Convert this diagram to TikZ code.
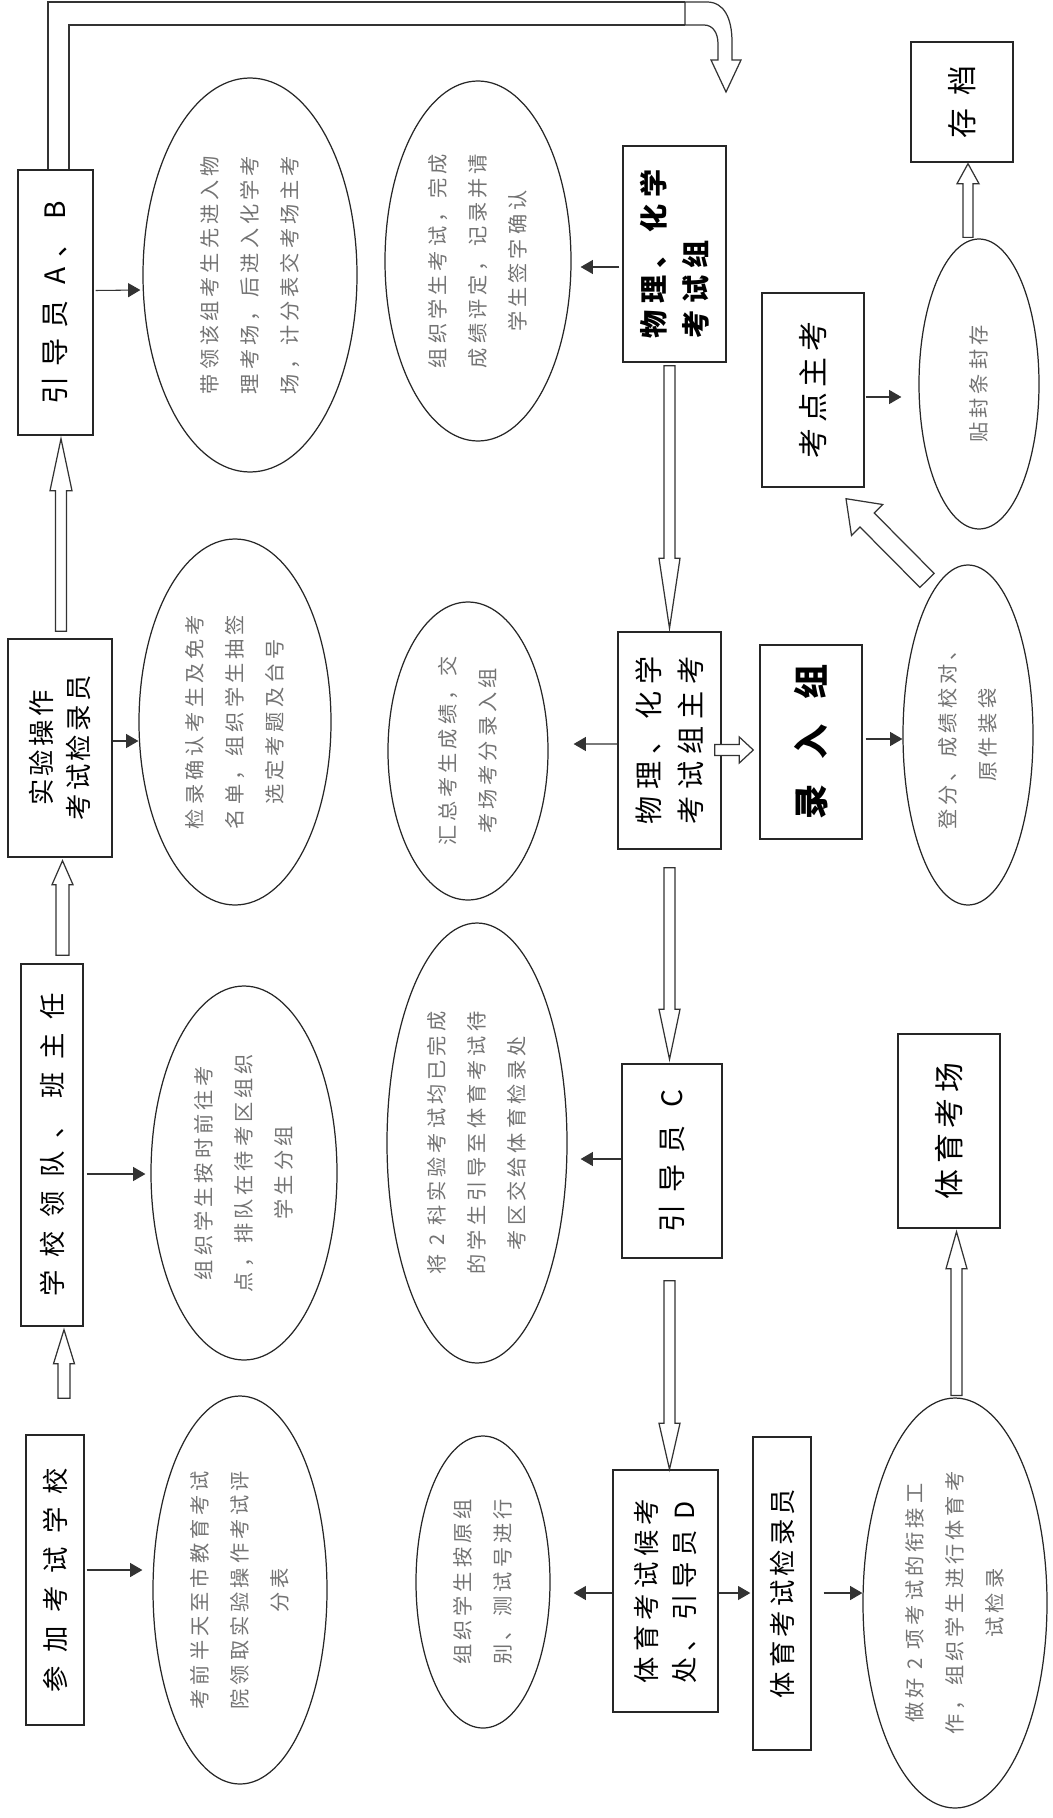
\documentclass[tikz,border=0pt]{standalone}
\usepackage{fontspec}
\setmainfont{Noto Sans CJK SC}
\usetikzlibrary{calc, arrows.meta, shapes.geometric}

\def\pxu{0.02cm}
\newcommand\blockarrow[5]{%
  \path #1 coordinate (ba-t) #2 coordinate (ba-h);
  \path ($(ba-h)!#5*\pxu!(ba-t)$) coordinate (ba-b);
  \draw[barrow] ($(ba-t)!#3*\pxu!90:(ba-h)$) -- ($(ba-b)!#3*\pxu!90:(ba-h)$)
    -- ($(ba-b)!#4*\pxu!90:(ba-h)$) -- (ba-h) -- ($(ba-b)!#4*\pxu!-90:(ba-h)$)
    -- ($(ba-b)!#3*\pxu!-90:(ba-h)$) -- ($(ba-t)!#3*\pxu!-90:(ba-h)$) -- cycle;
}

\begin{document}
\begin{tikzpicture}[x=0.02cm, y=-0.02cm,
    box/.style 2 args={draw=black!85, line width=0.8pt, rotate=90, inner sep=0pt,
      minimum width=#2*\pxu, minimum height=#1*\pxu, align=left},
    oval/.style 2 args={ellipse, draw=black!85, line width=0.7pt, rotate=90, inner sep=0pt,
      minimum width=#2*2*\pxu, minimum height=#1*2*\pxu, align=center, text=black!55,
      font=\fontsize{11.5}{22.7}\selectfont\addfontfeatures{LetterSpace=20}},
    txt/.style n args={3}{font=\fontsize{#1}{#2}\selectfont\addfontfeatures{LetterSpace=#3}},
    btxt/.style n args={3}{font=\fontsize{#1}{#2}\selectfont\bfseries\addfontfeatures{LetterSpace=#3}},
    arr/.style={draw=black!80, line width=0.6pt, -{Triangle[length=7pt, width=8pt]}},
    barrow/.style={draw=black!80, line width=0.7pt, fill=white}]

  \useasboundingbox (0,0) rectangle (1052,1818);

  \node[box={58}{290}, txt={15}{22}{50}] (sch) at (55,1580) {参加考试学校};
  \node[box={62}{362}, txt={15}{22}{50}] (xxld) at (52,1145) {学校领队、班主任};
  \node[box={104}{218}, txt={15}{21.5}{13}, align=center] (jljl) at (60,748) {实验操作\\考试检录员};
  \node[box={75}{265}, txt={16}{22}{35}] (ydab) at (55.5,302.5) {引导员 A、B};

  \node[oval={87}{194}] (e1) at (240,1590) {考前半天至市教育考试\\院领取实验操作考试评\\分表};
  \node[oval={93}{187}] (e2) at (244,1173) {组织学生按时前往考\\点，排队在待考区组织\\学生分组};
  \node[oval={96}{183}] (e3) at (235,722) {检录确认考生及免考\\名单，组织学生抽签\\选定考题及台号};
  \node[oval={107}{197}] (e4) at (250,275) {带领该组考生先进入物\\理考场，后进入化学考\\场，计分表交考场主考};

  \node[oval={93}{180}] (e5) at (478,261) {组织学生考试，完成\\成绩评定，记录并请\\学生签字确认};
  \node[oval={80}{149}] (e6) at (468,751) {汇总考生成绩，交\\考场考分录入组};
  \node[oval={90}{220}] (e7) at (477,1143) {将 2 科实验考试均已完成\\的学生引导至体育考试待\\考区交给体育检录处};
  \node[oval={67}{146}] (e8) at (483,1582) {组织学生按原组\\别、测试号进行};

  \node[box={103}{216}, btxt={16}{24}{25}] (wlz) at (674.5,254) {物理、化学\\考试组};
  \node[box={103}{217}, txt={16}{24}{25}] (zk) at (669.5,740.5) {物理、化学\\考试组主考};
  \node[box={100}{194}, txt={16}{22}{40}] (ydc) at (672,1161) {引导员 C};
  \node[box={105}{242}, txt={15}{22}{20}] (hkc) at (665.5,1591) {体育考试候考\\处、引导员 D};

  \node[box={102}{194}, btxt={20}{24}{70}] (lrz) at (811,742) {录入组};
  \node[box={102}{194}, txt={17}{24}{20}] (kdzk) at (813,390) {考点主考};
  \node[box={58}{313}, txt={15}{22}{16}] (tyjl) at (782,1593.5) {体育考试检录员};

  \node[box={102}{120}, txt={17}{24}{45}] (cd) at (962,102) {存档};
  \node[box={102}{194}, txt={17}{24}{20}] (tykc) at (949,1131) {体育考场};
  \node[oval={65}{170}] (e10) at (968,735) {登分、成绩校对、\\原件装袋};
  \node[oval={60}{145}] (e11) at (979,384) {贴封条封存};
  \node[oval={92}{205}] (e9) at (955,1603) {做好 2 项考试的衔接工\\作，组织学生进行体育考\\试检录};

  \begin{scope}[arr]
    \draw ($(sch.south)+(2,-10)$) -- ($(e1.north)+(-10,-20)$);
    \draw ($(xxld.south)+(3,29)$) -- ($(e2.north)+(-5,1)$);
    \draw ($(jljl.south)+(0,-7)$) -- ($(e3.north)+(0,19)$);
    \draw ($(ydab.south)+(2,-12)$) -- ($(e4.north)+(-2,15)$);
    \draw ($(wlz.north)+(-3,13)$) -- ($(e5.south)+(9,6)$);
    \draw ($(zk.north)+(0,3.5)$) -- ($(e6.south)+(25,-7)$);
    \draw ($(ydc.north)+(0,-2)$) -- ($(e7.south)+(13,16)$);
    \draw ($(hkc.north)+(0,2)$) -- ($(e8.south)+(23,11)$);
    \draw ($(hkc.south)+(0,2)$) -- ($(tyjl.north)+(-2,-0.5)$);
    \draw ($(tyjl.south)+(12,-0.5)$) -- ($(e9.north)+(0,-10)$);
    \draw ($(lrz.south)+(3,-3)$) -- ($(e10.north)+(0,4)$);
    \draw ($(kdzk.south)+(1,7)$) -- ($(e11.north)+(-17,13)$);
  \end{scope}

  \blockarrow{($(sch.east)+(9,-36)$)}{($(xxld.west)+(12,3)$)}{6}{10.5}{34}
  \blockarrow{($(xxld.east)+(10.5,-8)$)}{($(jljl.west)+(2.5,3)$)}{6.5}{10.5}{24}
  \blockarrow{($(jljl.east)+(1,-7)$)}{($(ydab.west)+(5.5,3)$)}{5.5}{11}{52}
  \blockarrow{($(wlz.west)+(-5,3)$)}{($(zk.east)+(0,-3)$)}{5.5}{10.5}{70}
  \blockarrow{($(zk.west)+(0,18)$)}{($(ydc.east)+(-2.5,-4)$)}{5.5}{10.5}{50}
  \blockarrow{($(ydc.west)+(-2.5,22)$)}{($(hkc.east)+(4,0)$)}{5.5}{10.5}{46}
  \blockarrow{($(zk.south)+(-7,9.5)$)}{($(lrz.north)+(-6,8)$)}{5.5}{13}{14}
  \blockarrow{($(e10.east)+(-41,16)$)}{($(kdzk.west)+(33,11)$)}{10}{22}{30}
  \blockarrow{($(e11.east)+(-11,-1)$)}{($(cd.west)+(6,1)$)}{5}{11}{20}
  \blockarrow{($(e9.east)+(1.5,-2)$)}{($(tykc.west)+(7.5,3)$)}{5.5}{10.5}{37}

  \coordinate (ub1) at (685,2);
  \coordinate (ub2) at (685,25);
  \begin{scope}[draw=black!80, line width=0.7pt]
    \draw ($(ydab.east)+(-7.5,0)$) |- (ub1);
    \draw ($(ydab.east)+(13.5,0)$) |- (ub2);
  \end{scope}
  \draw[barrow] (ub1) -- (707,2) .. controls (724,2) and (732,18) .. (732,42) -- (732,60)
    -- (741,60) -- (726,92) -- (711,60) -- (718,60) -- (718,44)
    .. controls (718,33) and (713,25) .. (704,25) -- (ub2) -- cycle;
\end{tikzpicture}
\end{document}
